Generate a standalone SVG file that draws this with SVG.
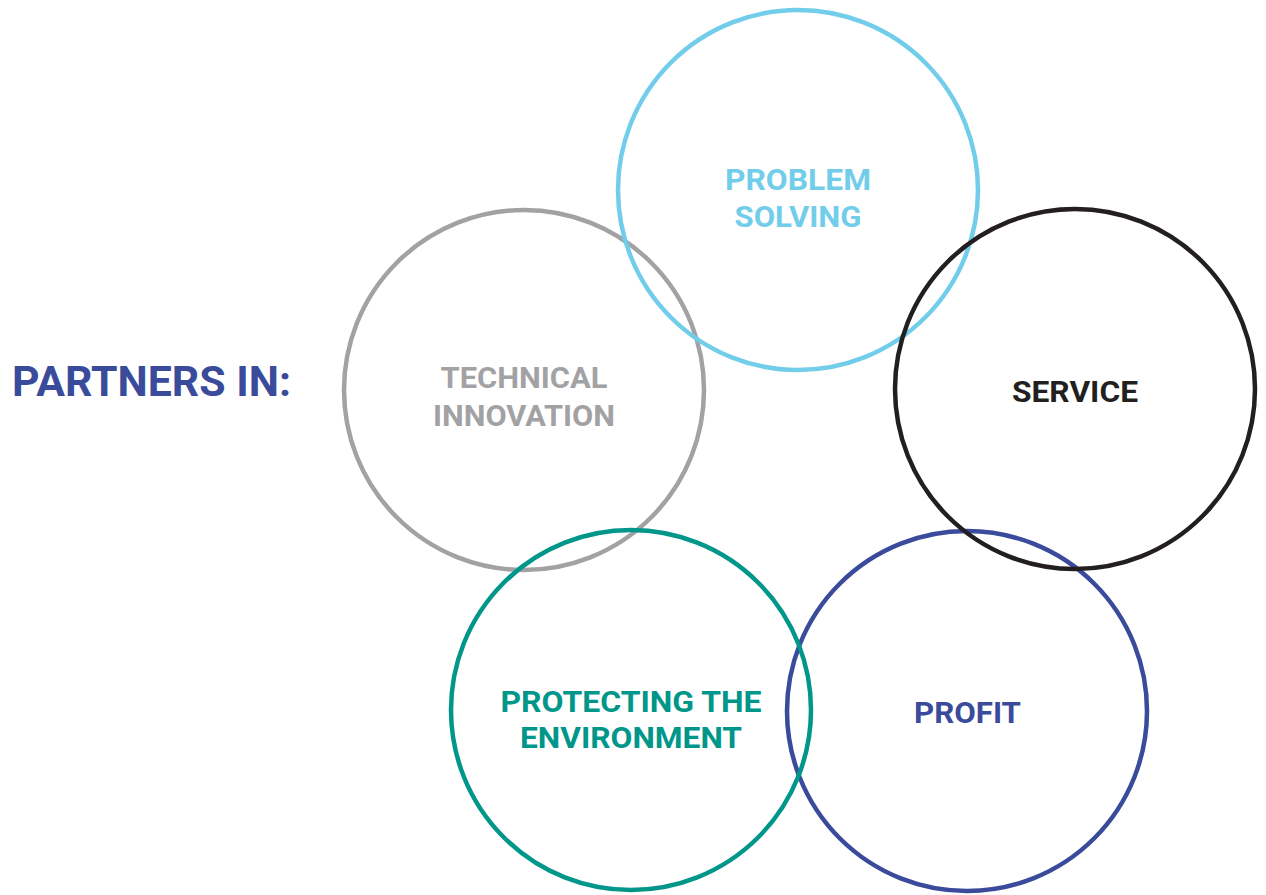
<svg xmlns="http://www.w3.org/2000/svg" width="1266" height="895" viewBox="0 0 1266 895">
<style>
  .ring { fill: none; stroke-width: 4.5; }
  .lbl { font-family: Roboto, "Liberation Sans", sans-serif; font-weight: bold; font-size: 30px; text-anchor: middle; }
  .title { font-family: Roboto, "Liberation Sans", sans-serif; font-weight: bold; font-size: 43px; }
</style>
<rect width="1266" height="895" fill="#ffffff"/>
<g id="title">
  <text class="title" x="12" y="396" fill="#3a4b9b" textLength="279" lengthAdjust="spacingAndGlyphs">PARTNERS IN:</text>
</g>
<g id="connectors"></g>
<g id="technical-innovation">
  <circle class="ring" cx="524" cy="390" r="180" stroke="#a2a2a5"/>
  <text class="lbl" x="524" y="388" fill="#a2a2a5" textLength="167" lengthAdjust="spacingAndGlyphs">TECHNICAL</text>
  <text class="lbl" x="524" y="426" fill="#a2a2a5" textLength="182" lengthAdjust="spacingAndGlyphs">INNOVATION</text>
</g>
<g id="problem-solving">
  <circle class="ring" cx="798" cy="190" r="180" stroke="#72cdea"/>
  <text class="lbl" x="798" y="190" fill="#72cdea" textLength="146" lengthAdjust="spacingAndGlyphs">PROBLEM</text>
  <text class="lbl" x="798" y="227" fill="#72cdea" textLength="127" lengthAdjust="spacingAndGlyphs">SOLVING</text>
</g>
<g id="profit">
  <circle class="ring" cx="967" cy="711" r="180" stroke="#3a4b9b"/>
  <text class="lbl" x="967.5" y="723" fill="#3a4b9b" textLength="107" lengthAdjust="spacingAndGlyphs">PROFIT</text>
</g>
<g id="service">
  <circle class="ring" cx="1075" cy="389" r="180" stroke="#231f20"/>
  <text class="lbl" x="1075" y="402" fill="#231f20" textLength="126" lengthAdjust="spacingAndGlyphs">SERVICE</text>
</g>
<g id="protecting-the-environment">
  <circle class="ring" cx="631" cy="710" r="180" stroke="#00968a"/>
  <text class="lbl" x="631" y="712" fill="#00968a" textLength="261" lengthAdjust="spacingAndGlyphs">PROTECTING THE</text>
  <text class="lbl" x="631" y="748" fill="#00968a" textLength="222" lengthAdjust="spacingAndGlyphs">ENVIRONMENT</text>
</g>
</svg>
